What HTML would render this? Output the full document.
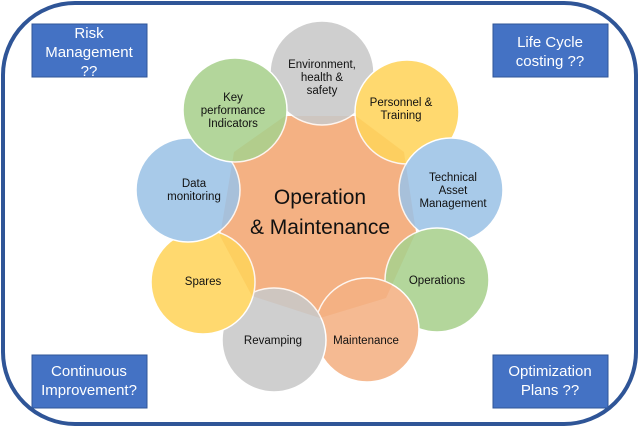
<!DOCTYPE html>
<html><head><meta charset="utf-8"><style>
body{margin:0;width:640px;height:428px;background:#fff;overflow:hidden}
svg text{font-family:"Liberation Sans",sans-serif}
</style></head><body>
<svg width="640" height="428" viewBox="0 0 640 428">
<rect x="3" y="3" width="633" height="421" rx="72" fill="#fff" stroke="#2F5597" stroke-width="4"/>
<g fill="#4472C4" stroke="#2F5597" stroke-width="1">
<rect x="32" y="24" width="115" height="53"/>
<rect x="493" y="24" width="115" height="53"/>
<rect x="32" y="355" width="115" height="53"/>
<rect x="493" y="355" width="115" height="53"/>
</g>
<g fill="#fff" font-size="15" text-anchor="middle">
<text x="89" y="38">Risk</text><text x="89" y="57">Management</text><text x="89" y="76">??</text>
<text x="550" y="47">Life Cycle</text><text x="550" y="66">costing ??</text>
<text x="89" y="376">Continuous</text><text x="89" y="395">Improvement?</text>
<text x="550" y="376">Optimization</text><text x="550" y="395">Plans ??</text>
</g>
<polygon points="285,116 356,116 404,152 416,232 386,298 320,318 252,296 220,236 234,152" fill="#F4B183"/>
<g stroke="#fff" stroke-width="1.5" opacity="0.88">
<circle cx="322" cy="73" r="52" fill="#C9C9C9"/>
<circle cx="407" cy="112" r="52" fill="#FFD45C"/>
<circle cx="451" cy="190" r="52" fill="#9DC3E6"/>
<circle cx="437" cy="280" r="52" fill="#A9D18E"/>
<circle cx="367" cy="330" r="52" fill="#F4B183"/>
<circle cx="274" cy="340" r="52" fill="#C9C9C9"/>
<circle cx="203" cy="282" r="52" fill="#FFD45C"/>
<circle cx="188" cy="190" r="52" fill="#9DC3E6"/>
<circle cx="235" cy="110" r="52" fill="#A9D18E"/>
</g>
<g fill="#111" font-size="11.5" text-anchor="middle">
<text x="322" y="68">Environment,</text><text x="322" y="81">health &amp;</text><text x="322" y="94">safety</text>
<text x="401" y="106">Personnel &amp;</text><text x="401" y="119">Training</text>
<text x="453" y="181">Technical</text><text x="453" y="194">Asset</text><text x="453" y="207">Management</text>
<text x="437" y="284">Operations</text>
<text x="366" y="344">Maintenance</text>
<text x="273" y="344">Revamping</text>
<text x="203" y="285">Spares</text>
<text x="194" y="187">Data</text><text x="194" y="200">monitoring</text>
<text x="233" y="101">Key</text><text x="233" y="114">performance</text><text x="233" y="127">Indicators</text>
</g>
<g fill="#111" font-size="21" text-anchor="middle">
<text x="320" y="204">Operation</text><text x="320" y="234">&amp; Maintenance</text>
</g>
</svg>
</body></html>
